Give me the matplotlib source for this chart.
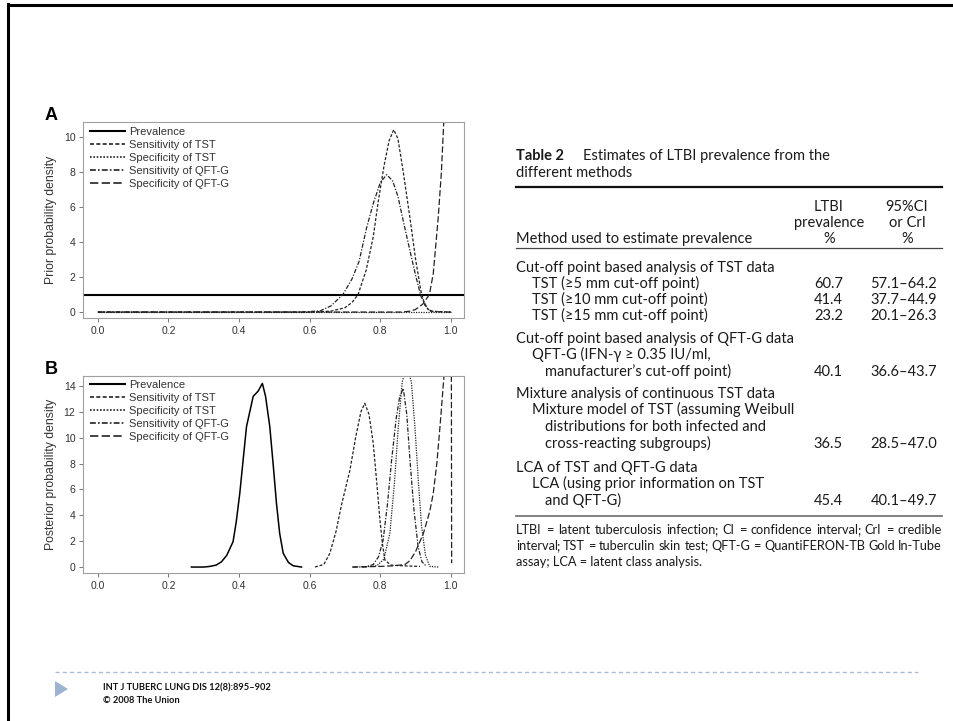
import matplotlib
matplotlib.use("Agg")
import matplotlib.pyplot as plt
from matplotlib.lines import Line2D
from matplotlib.patches import Polygon

W, H = 954, 721
plt.rcParams['font.family'] = ['Liberation Sans', 'DejaVu Sans']

# ---------------- data: panel A (prior densities) ----------------
prior_prevalence_level = 1.0

a_sens_tst_x = [0.0, 0.60, 0.66, 0.70, 0.72, 0.737, 0.76, 0.78, 0.794, 0.81, 0.825, 0.838, 0.85, 0.865, 0.884, 0.90, 0.915, 0.926, 0.94, 1.0]
a_sens_tst_y = [0, 0, 0.05, 0.25, 0.55, 1.0, 2.4, 4.3, 6.3, 8.3, 9.8, 10.42, 9.9, 8.0, 5.37, 3.0, 1.2, 0.4, 0.05, 0]

a_spec_tst_x = [0.0, 1.0]
a_spec_tst_y = [0, 0]

a_sens_qft_x = [0.0, 0.58, 0.63, 0.66, 0.694, 0.72, 0.74, 0.761, 0.78, 0.80, 0.818, 0.835, 0.85, 0.865, 0.884, 0.90, 0.915, 0.935, 0.95, 1.0]
a_sens_qft_y = [0, 0, 0.07, 0.35, 1.0, 1.9, 2.9, 4.8, 6.2, 7.4, 7.85, 7.5, 6.6, 5.2, 3.5, 2.1, 0.9, 0.15, 0.02, 0]

a_spec_qft_x = [0.0, 0.86, 0.884, 0.90, 0.92, 0.939, 0.95, 0.964, 0.973, 0.98, 0.99, 1.0]
a_spec_qft_y = [0, 0, 0.05, 0.15, 0.45, 1.0, 2.2, 5.4, 8.0, 11.0, 16, 20]

# ---------------- data: panel B (posterior densities) ----------------
b_prev_x = [0.265, 0.30, 0.317, 0.335, 0.350, 0.365, 0.383, 0.392, 0.402, 0.421, 0.440, 0.454, 0.466, 0.475, 0.487, 0.497, 0.506, 0.515, 0.525, 0.54, 0.553, 0.577]
b_prev_y = [0, 0.0, 0.05, 0.15, 0.4, 0.9, 1.96, 3.5, 5.7, 10.85, 13.2, 13.6, 14.2, 13.2, 10.85, 7.8, 4.9, 2.6, 1.06, 0.35, 0.1, 0.0]

b_sens_tst_x = [0.615, 0.64, 0.657, 0.675, 0.69, 0.714, 0.73, 0.745, 0.756, 0.768, 0.780, 0.79, 0.799, 0.806, 0.813, 0.83, 0.86, 0.912]
b_sens_tst_y = [0, 0.2, 1.06, 2.8, 4.8, 7.5, 10.0, 12.0, 12.66, 11.8, 9.56, 6.5, 3.63, 1.8, 0.54, 0.15, 0.1, 0.05]

b_spec_tst_x = [0.75, 0.79, 0.81, 0.827, 0.84, 0.851, 0.862, 0.875, 0.888, 0.898, 0.908, 0.917, 0.928, 0.940, 0.964]
b_spec_tst_y = [0, 0.1, 0.6, 2.6, 6.5, 10.85, 14.3, 15.6, 14.3, 10.85, 6.5, 3.1, 0.9, 0.05, 0.0]

b_sens_qft_x = [0.723, 0.76, 0.78, 0.795, 0.808, 0.82, 0.832, 0.845, 0.855, 0.865, 0.875, 0.884, 0.895, 0.907, 0.918, 0.931]
b_sens_qft_y = [0, 0.02, 0.2, 0.8, 2.09, 4.8, 8.27, 11.5, 13.2, 13.8, 11.8, 8.27, 4.5, 1.57, 0.4, 0.05]

b_spec_qft_x = [0.72, 0.80, 0.84, 0.87, 0.884, 0.90, 0.922, 0.94, 0.950, 0.960, 0.969, 0.981, 0.99, 1.0, 1.002]
b_spec_qft_y = [0, 0.05, 0.1, 0.2, 0.5, 1.2, 2.6, 4.3, 5.7, 8.0, 10.85, 15, 25, 40, 0.3]

legend_labels = ["Prevalence", "Sensitivity of TST", "Specificity of TST",
                 "Sensitivity of QFT-G", "Specificity of QFT-G"]
x_ticks = [0.0, 0.2, 0.4, 0.6, 0.8, 1.0]
a_y_ticks = [0, 2, 4, 6, 8, 10]
b_y_ticks = [0, 2, 4, 6, 8, 10, 12, 14]

# ---------------- data: table ----------------
table_title = ["Estimates of LTBI prevalence from the", "different methods"]
col_head_prev = ["LTBI", "prevalence", "%"]
col_head_ci = ["95%CI", "or CrI", "%"]
method_head = "Method used to estimate prevalence"
table_rows = [
    ("Cut-off point based analysis of TST data", 0, "", ""),
    ("TST (\u22655 mm cut-off point)", 1, "60.7", "57.1\u201364.2"),
    ("TST (\u226510 mm cut-off point)", 1, "41.4", "37.7\u201344.9"),
    ("TST (\u226515 mm cut-off point)", 1, "23.2", "20.1\u201326.3"),
    ("Cut-off point based analysis of QFT-G data", 0, "", ""),
    ("QFT-G (IFN-\u03b3 \u2265 0.35 IU/ml,", 1, "", ""),
    ("manufacturer\u2019s cut-off point)", 2, "40.1", "36.6\u201343.7"),
    ("Mixture analysis of continuous TST data", 0, "", ""),
    ("Mixture model of TST (assuming Weibull", 1, "", ""),
    ("distributions for both infected and", 2, "", ""),
    ("cross-reacting subgroups)", 2, "36.5", "28.5\u201347.0"),
    ("LCA of TST and QFT-G data", 0, "", ""),
    ("LCA (using prior information on TST", 1, "", ""),
    ("and QFT-G)", 2, "45.4", "40.1\u201349.7"),
]
row_y = [267, 283, 299, 315, 338, 354, 371, 393, 409, 426, 443, 467, 483, 500]
footnote = ["LTBI = latent tuberculosis infection; CI = confidence interval; CrI = credible",
            "interval; TST = tuberculin skin test; QFT-G = QuantiFERON-TB Gold In-Tube",
            "assay; LCA = latent class analysis."]

# ---------------- figure ----------------
fig = plt.figure(figsize=(W / 100, H / 100), dpi=100)
fig.patch.set_facecolor("white")


def fx(px):
    return px / W


def fy(py):
    return 1 - py / H


def axes_rect(l, t, r, b):
    return [fx(l), fy(b), (r - l) / W, (b - t) / H]


FRAME = "#a0a0a0"
TXT = "#333333"

styles = {
    "prev": dict(ls="-", color="black"),
    "sens_tst": dict(ls=(0, (2.4, 1.4)), color="#222222", lw=0.9),
    "spec_tst": dict(ls=(0, (1.0, 1.0)), color="#222222", lw=0.9),
    "sens_qft": dict(ls=(0, (3.5, 1.3, 1.0, 1.3)), color="#222222", lw=0.9),
    "spec_qft": dict(ls=(0, (5.0, 2.0)), color="#222222", lw=0.9),
}


def style_axes(ax, yticks, ylim, ylabel):
    ax.set_xlim(-0.042, 1.037)
    ax.set_ylim(*ylim)
    ax.set_xticks(x_ticks)
    ax.set_xticklabels([f"{t:.1f}" for t in x_ticks])
    ax.set_yticks(yticks)
    ax.set_yticklabels([str(t) for t in yticks])
    for s in ax.spines.values():
        s.set_color(FRAME)
        s.set_linewidth(0.8)
    ax.tick_params(direction="out", length=3, width=0.7, color="#777777",
                   labelsize=7.5, labelcolor=TXT, pad=2.5)
    ax.set_ylabel(ylabel, fontsize=8.8, color=TXT, labelpad=5)


# Panel A
axA = fig.add_axes(axes_rect(83, 122, 464, 318))
axA.axhline(prior_prevalence_level, lw=1.5, **styles["prev"])
axA.plot(a_sens_tst_x, a_sens_tst_y, **styles["sens_tst"])
axA.plot(a_spec_tst_x, a_spec_tst_y, **styles["spec_tst"])
axA.plot(a_sens_qft_x, a_sens_qft_y, **styles["sens_qft"])
axA.plot(a_spec_qft_x, a_spec_qft_y, **styles["spec_qft"])
style_axes(axA, a_y_ticks, (-0.34, 10.86), "Prior probability density")

# Panel B
axB = fig.add_axes(axes_rect(83, 376, 464, 573))
axB.plot(b_prev_x, b_prev_y, lw=1.1, **styles["prev"])
axB.plot(b_sens_tst_x, b_sens_tst_y, **styles["sens_tst"])
axB.plot(b_spec_tst_x, b_spec_tst_y, **styles["spec_tst"])
axB.plot(b_sens_qft_x, b_sens_qft_y, **styles["sens_qft"])
axB.plot(b_spec_qft_x, b_spec_qft_y, **styles["spec_qft"])
style_axes(axB, b_y_ticks, (-0.46, 14.77), "Posterior probability density")


def leg_handles(lw_prev):
    hs = [Line2D([], [], lw=lw_prev, **styles["prev"])]
    for k in ["sens_tst", "spec_tst", "sens_qft", "spec_qft"]:
        st = dict(styles[k])
        st["lw"] = 1.2
        hs.append(Line2D([], [], **st))
    return hs


for ax, anchor in [(axA, (0.018, 0.975)), (axB, (0.018, 0.978))]:
    ax.legend(leg_handles(1.5), legend_labels, loc="upper left", bbox_to_anchor=anchor,
              frameon=False, fontsize=8, handlelength=3.15, handletextpad=0.36,
              labelspacing=0.27, borderpad=0, borderaxespad=0, labelcolor=TXT)

fig.text(fx(45), fy(115), "A", fontsize=13, fontweight="bold", va="center", ha="left")
fig.text(fx(45), fy(370), "B", fontsize=13, fontweight="bold", va="center", ha="left")

# ---------------- table ----------------
TF = ["Lato", "DejaVu Sans"]
TC = "#1a1a1a"
fs = 10.5
BL = 5  # baseline offset from visual line centre (px)


def ttext(px, py, s, size=fs, family=TF, **kw):
    return fig.text(fx(px), fy(py + BL * size / 10.5), s, fontsize=size, family=family,
                    color=TC, va="baseline", **kw)


ttext(516, 155, "Table 2", fontweight="bold")
ttext(583, 155, table_title[0])
ttext(516, 172, table_title[1])

fig.add_artist(Line2D([fx(516), fx(942)], [fy(187), fy(187)], lw=1.6, color="#111111"))
for i, (a, b) in enumerate(zip(col_head_prev, col_head_ci)):
    yy = 206 + i * 16
    ttext(829, yy, a, ha="center")
    ttext(907, yy, b, ha="center")
ttext(516, 238, method_head)
fig.add_artist(Line2D([fx(516), fx(942)], [fy(248), fy(248)], lw=0.9, color="#444444"))

indent_px = [516, 532, 545]
for (txt, lvl, prev, ci), yy in zip(table_rows, row_y):
    ttext(indent_px[lvl], yy, txt)
    if prev:
        ttext(843, yy, prev, ha="right")
        ttext(937, yy, ci, ha="right")

fig.add_artist(Line2D([fx(516), fx(942)], [fy(516), fy(516)], lw=1.3, color="#777777"))

# justified footnote (words placed individually; trailing ';' drawn separately
# so every word shares one baseline)
fig.canvas.draw()
renderer = fig.canvas.get_renderer()
fn_fs = 9.2


def measure(s):
    t = fig.text(0, 0, s, fontsize=fn_fs, family="Lato")
    w = t.get_window_extent(renderer).width
    t.remove()
    return w


semi_w = measure(";") - 1.5
for i, line in enumerate(footnote):
    yy = 530 + i * 16
    if i < len(footnote) - 1:
        words = line.split(" ")
        parts = []
        for w in words:
            if w.endswith(";"):
                parts.append((w[:-1], True))
            else:
                parts.append((w, False))
        base_w = [measure(p) for p, _ in parts]
        widths = [bw + (semi_w if semi else 0) for bw, (_, semi) in zip(base_w, parts)]
        total = sum(widths)
        gap = (942 - 516 - total) / (len(words) - 1)
        x = 516
        for (p, semi), bw, wd in zip(parts, base_w, widths):
            ttext(x, yy, p, size=fn_fs, family="Lato")
            if semi:
                ttext(x + bw - 1.5, yy, ";", size=fn_fs, family="Lato")
            x += wd + gap
    else:
        ttext(516, yy, line, size=fn_fs, family="Lato")

# ---------------- slide decorations ----------------
fig.add_artist(Line2D([fx(8), fx(954)], [fy(5), fy(5)], lw=2.2, color="black"))
fig.add_artist(Line2D([fx(8), fx(8)], [fy(4), fy(721)], lw=2.2, color="black"))
fig.add_artist(Line2D([fx(55), fx(918)], [fy(672), fy(672)], lw=1.0, color="#a9bdd8",
                      ls=(0, (3, 2.2))))
fig.add_artist(Polygon([[fx(55), fy(681)], [fx(55), fy(697)], [fx(68), fy(689)]],
                       closed=True, facecolor="#9db3d1", edgecolor="none", transform=fig.transFigure))
fig.text(fx(103), fy(690), "INT J TUBERC LUNG DIS 12(8):895\u2013902", fontsize=6.7,
         fontweight="bold", family=TF, color="#111111", va="baseline")
fig.text(fx(103), fy(703), "\u00a9 2008 The Union", fontsize=6.7,
         fontweight="bold", family=TF, color="#111111", va="baseline")

fig.savefig("out.png", dpi=100)
